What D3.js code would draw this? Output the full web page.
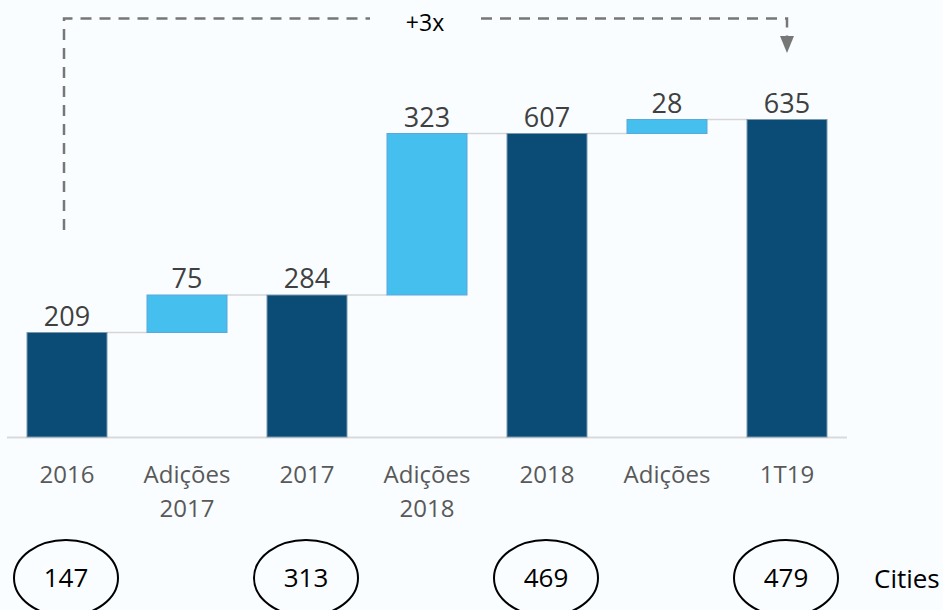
<!DOCTYPE html>
<html>
<head>
<meta charset="utf-8">
<script src="https://cdn.jsdelivr.net/npm/d3@7"></script>
<style>
  html, body { margin: 0; padding: 0; background: #fafdff; }
  svg { display: block; font-family: "Open Sans", "DejaVu Sans", sans-serif; }
</style>
</head>
<body>
<div id="chart"></div>
<script>
// data
var categories = ["2016", "Adições 2017", "2017", "Adições 2018", "2018", "Adições", "1T19"];
var values     = [209, 75, 284, 323, 607, 28, 635];
var kinds      = ["total", "add", "total", "add", "total", "add", "total"];
var cityCategories = ["2016", "2017", "2018", "1T19"];
var cityValues     = [147, 313, 469, 479];
var growthLabel = "+3x";
var citiesLabel = "Cities";

var width = 943, height = 610,
    baseY = 437;

var svg = d3.select("#chart").append("svg")
    .attr("width", width)
    .attr("height", height);

var x = d3.scaleBand()
    .domain(categories)
    .range([7, 847])
    .paddingInner(1 / 3)
    .paddingOuter(1 / 6);

var y = d3.scaleLinear()
    .domain([0, 700])
    .range([baseY, 87]);

// running totals -> start/end of each bar
var bars = [];
var running = 0;
categories.forEach(function (c, i) {
    var start, end;
    if (kinds[i] === "total") { start = 0; end = values[i]; running = values[i]; }
    else { start = running; end = running + values[i]; running = end; }
    bars.push({ cat: c, value: values[i], kind: kinds[i], start: start, end: end });
});

// connectors
var conn = [];
for (var i = 0; i < bars.length - 1; i++) {
    conn.push({ from: bars[i].cat, to: bars[i + 1].cat, level: bars[i].end });
}
svg.selectAll("line.conn")
    .data(conn)
    .enter().append("line")
    .attr("class", "conn")
    .attr("x1", function (d) { return x(d.from) + x.bandwidth(); })
    .attr("x2", function (d) { return x(d.to); })
    .attr("y1", function (d) { return y(d.level); })
    .attr("y2", function (d) { return y(d.level); })
    .style("stroke", "#d6d6d6")
    .style("stroke-width", 1.5);

// axis line
svg.append("line")
    .attr("x1", 7).attr("x2", 847)
    .attr("y1", baseY + 0.5).attr("y2", baseY + 0.5)
    .style("stroke", "#d9d9d9")
    .style("stroke-width", 2);

// bars
svg.selectAll("rect.bar")
    .data(bars)
    .enter().append("rect")
    .attr("class", "bar")
    .attr("x", function (d) { return x(d.cat); })
    .attr("width", x.bandwidth())
    .attr("y", function (d) { return y(d.end); })
    .attr("height", function (d) { return y(d.start) - y(d.end); })
    .style("fill", function (d) { return d.kind === "total" ? "#0b4c77" : "#45bfed"; })
    .style("stroke", function (d) { return d.kind === "total" ? "#7d97ad" : "#5aa8dc"; })
    .style("stroke-width", 1);

// value labels
svg.selectAll("text.val")
    .data(bars)
    .enter().append("text")
    .attr("class", "val")
    .attr("x", function (d) { return x(d.cat) + x.bandwidth() / 2; })
    .attr("y", function (d) { return y(d.end) - 7; })
    .attr("text-anchor", "middle")
    .style("font-size", "27px")
    .style("fill", "#404040")
    .text(function (d) { return d.value; });

// category labels (two lines where needed)
var catLabels = svg.selectAll("text.cat")
    .data(categories)
    .enter().append("text")
    .attr("class", "cat")
    .attr("text-anchor", "middle")
    .style("font-size", "24px")
    .style("fill", "#595959");
catLabels.each(function (c) {
    var parts = c.split(" ");
    var t = d3.select(this);
    parts.forEach(function (p, k) {
        t.append("tspan")
            .attr("x", x(c) + x.bandwidth() / 2)
            .attr("y", 483 + k * 34)
            .text(p);
    });
});

// cities ellipses
var cities = svg.selectAll("g.city")
    .data(cityCategories.map(function (c, i) { return { cat: c, value: cityValues[i] }; }))
    .enter().append("g")
    .attr("class", "city")
    .attr("transform", function (d) {
        return "translate(" + (x(d.cat) + x.bandwidth() / 2 - 1) + ",578)";
    });
cities.append("ellipse")
    .attr("rx", 52).attr("ry", 38)
    .style("fill", "none")
    .style("stroke", "#000")
    .style("stroke-width", 2);
cities.append("text")
    .attr("text-anchor", "middle")
    .attr("y", 9)
    .style("font-size", "26px")
    .style("fill", "#000")
    .text(function (d) { return d.value; });

svg.append("text")
    .attr("x", 874)
    .attr("y", 588)
    .style("font-size", "26px")
    .style("fill", "#000")
    .text(citiesLabel);

// growth annotation
var xl = x(categories[0]) + x.bandwidth() / 2 - 3,
    xr = x(categories[categories.length - 1]) + x.bandwidth() / 2,
    topY = 18.5;
var dash = { stroke: "#777", "stroke-width": 2.5, fill: "none", "stroke-dasharray": "11,8" };
function styled(sel) {
    Object.keys(dash).forEach(function (k) { sel.style(k, dash[k]); });
    return sel;
}
styled(svg.append("path")
    .attr("d", "M" + xl + "," + 230 + " V" + topY + " H370"));
styled(svg.append("path")
    .attr("d", "M481," + topY + " H" + xr + " V36"));
svg.append("path")
    .attr("d", "M" + (xr - 7) + ",36 L" + (xr + 7) + ",36 L" + xr + ",53 Z")
    .style("fill", "#777");
svg.append("text")
    .attr("x", 425)
    .attr("y", 31)
    .attr("text-anchor", "middle")
    .style("font-size", "23px")
    .style("fill", "#000")
    .text(growthLabel);
</script>
</body>
</html>
